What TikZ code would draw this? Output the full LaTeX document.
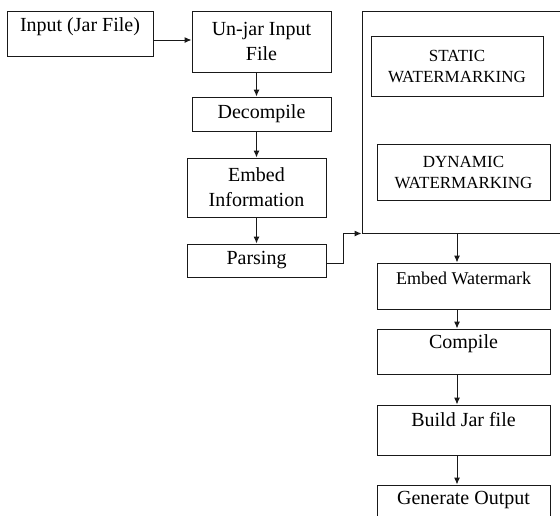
\documentclass[tikz,border=0pt]{standalone}
\usepackage{fontspec}
\setmainfont{Liberation Serif}
\usetikzlibrary{arrows.meta,calc}
\begin{document}
\begin{tikzpicture}[x=1pt,y=-1pt,
  box/.style={draw=black!90, line width=1pt, inner sep=0pt, align=center,
              font=\fontsize{20}{25}\selectfont},
  txt/.style={inner sep=0pt, align=center, font=\fontsize{20}{25}\selectfont},
  caps/.style={font=\fontsize{17}{22}\selectfont},
  arr/.style={draw=black!90, line width=1pt, -{Latex[length=7pt,width=6pt]}}]
\useasboundingbox (0,0) rectangle (560,515);

% left column
\node[box, minimum width=146, minimum height=45] (in) at (80,33.5) {};
\node[txt] (intxt) at (80,27) {Input (Jar File)};
\node[box, minimum width=139, minimum height=61] (unjar) at (261.5,41.5) {Un-jar Input\\File};
\node[box, minimum width=139, minimum height=34] (dec) at (261.5,114) {Decompile};
\node[box, minimum width=139, minimum height=59] (emb) at (256.5,187.5) {Embed\\Information};
\node[box, minimum width=139, minimum height=33] (pars) at (256.5,260.5) {Parsing};

% watermarking container (runs off the right edge)
\node[draw=black!90, line width=1pt, inner sep=0pt, minimum width=213, minimum height=222]
  (wm) at (468.5,122) {};
\node[box, caps, minimum width=172, minimum height=60] (stat) at (457,66) {STATIC\\[-1pt]WATERMARKING};
\node[box, caps, minimum width=173, minimum height=56] (dyn) at (463.5,172) {DYNAMIC\\[-1pt]WATERMARKING};

% right column
\node[box, minimum width=173, minimum height=46] (ewm) at (463.5,286) {};
\node[txt, font=\fontsize{18}{22}\selectfont] (ewmtxt) at (463.5,278) {Embed Watermark};
\node[box, minimum width=173, minimum height=45] (comp) at (463.5,351.5) {};
\node[txt] (comptxt) at (463.5,344) {Compile};
\node[box, minimum width=173, minimum height=50] (build) at (463.5,430) {};
\node[txt] (buildtxt) at (463.5,420) {Build Jar file};
\node[box, minimum width=173, minimum height=60] (gen) at (463.5,515) {};
\node[txt] (gentxt) at (463.5,500) {Generate Output};

% connectors
\draw[arr] ($(in.east)+(0,6.5)$) -- ($(unjar.west)+(0,-1.5)$);
\draw[arr] (unjar.south -| emb) -- (dec.north -| emb);
\draw[arr] (dec.south -| emb) -- (emb.north);
\draw[arr] (emb.south) -- (pars.north);
\draw[arr] ($(pars.east)+(0,2.5)$) -- ++(17,0) |- (wm.south west);
\draw[arr] (wm.south -| stat) -- (ewm.north -| stat);
\draw[arr] (ewm.south -| stat) -- (comp.north -| stat);
\draw[arr] (comp.south -| stat) -- (build.north -| stat);
\draw[arr] (build.south -| stat) -- (gen.north -| stat);
\end{tikzpicture}
\end{document}
